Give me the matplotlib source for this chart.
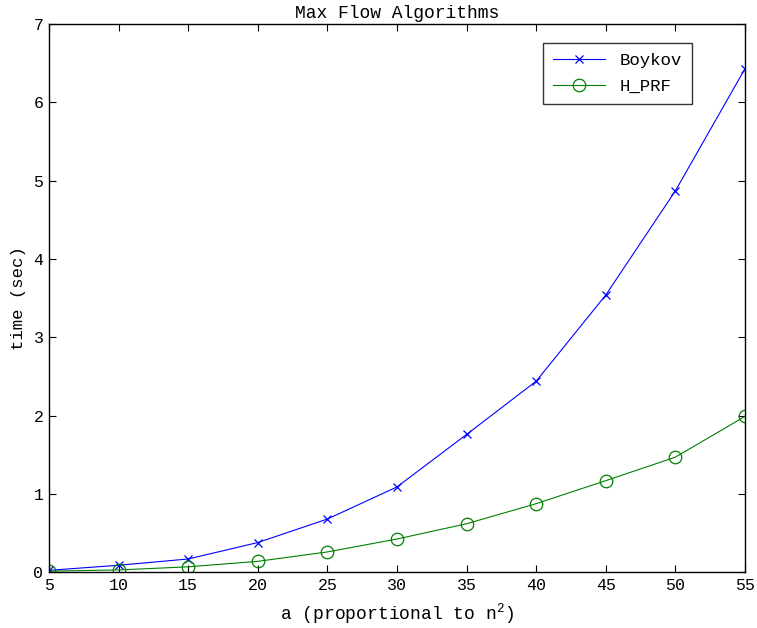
import matplotlib
matplotlib.use("Agg")
import matplotlib.pyplot as plt

a_vals = [5, 10, 15, 20, 25, 30, 35, 40, 45, 50, 55]
boykov = [0.025, 0.09, 0.17, 0.38, 0.68, 1.09, 1.76, 2.44, 3.54, 4.87, 6.43]
h_prf = [0.015, 0.03, 0.07, 0.14, 0.26, 0.425, 0.62, 0.876, 1.17, 1.47, 1.99]
xticks = [5, 10, 15, 20, 25, 30, 35, 40, 45, 50, 55]
yticks = [0, 1, 2, 3, 4, 5, 6, 7]

plt.rcParams['font.family'] = ['Liberation Mono', 'DejaVu Sans Mono']
plt.rcParams['mathtext.fontset'] = 'custom'
plt.rcParams['mathtext.rm'] = 'Liberation Mono'

fig = plt.figure(figsize=(7.57, 6.28), dpi=100)
ax = fig.add_axes([49/757, 1 - 572.3/628, (745-49)/757, (572.3-24)/628])

ax.plot(a_vals, boykov, color='#0000ff', marker='x', markersize=6, linewidth=0.8,
        markeredgewidth=0.9, label='Boykov')
ax.plot(a_vals, h_prf, color='#008000', marker='o', markersize=9, linewidth=0.8,
        markerfacecolor='none', markeredgewidth=0.9, label='H_PRF')

ax.set_xlim(5, 55)
ax.set_ylim(0, 7)
ax.set_xticks(xticks)
ax.set_yticks(yticks)
ax.tick_params(direction='in', top=True, right=True, length=5, width=0.8,
               labelsize=12, colors='black', pad=4)
for s in ax.spines.values():
    s.set_linewidth(1.0)

ax.set_title('Max Flow Algorithms', fontsize=13, pad=4)
ax.set_xlabel(r'a (proportional to n$^{\mathregular{2}}$)', fontsize=13, labelpad=6)
ax.set_ylabel('time (sec)', fontsize=12.5, labelpad=5)

leg = ax.legend(loc='upper right', bbox_to_anchor=((692-49)/696, 1 - 18.7/548.3),
                fontsize=12.5, frameon=True, fancybox=False, edgecolor='black',
                borderaxespad=0, handlelength=3.0, borderpad=0.6, labelspacing=0.6)
leg.get_frame().set_linewidth(1.0)

fig.savefig('out.png', dpi=100)
